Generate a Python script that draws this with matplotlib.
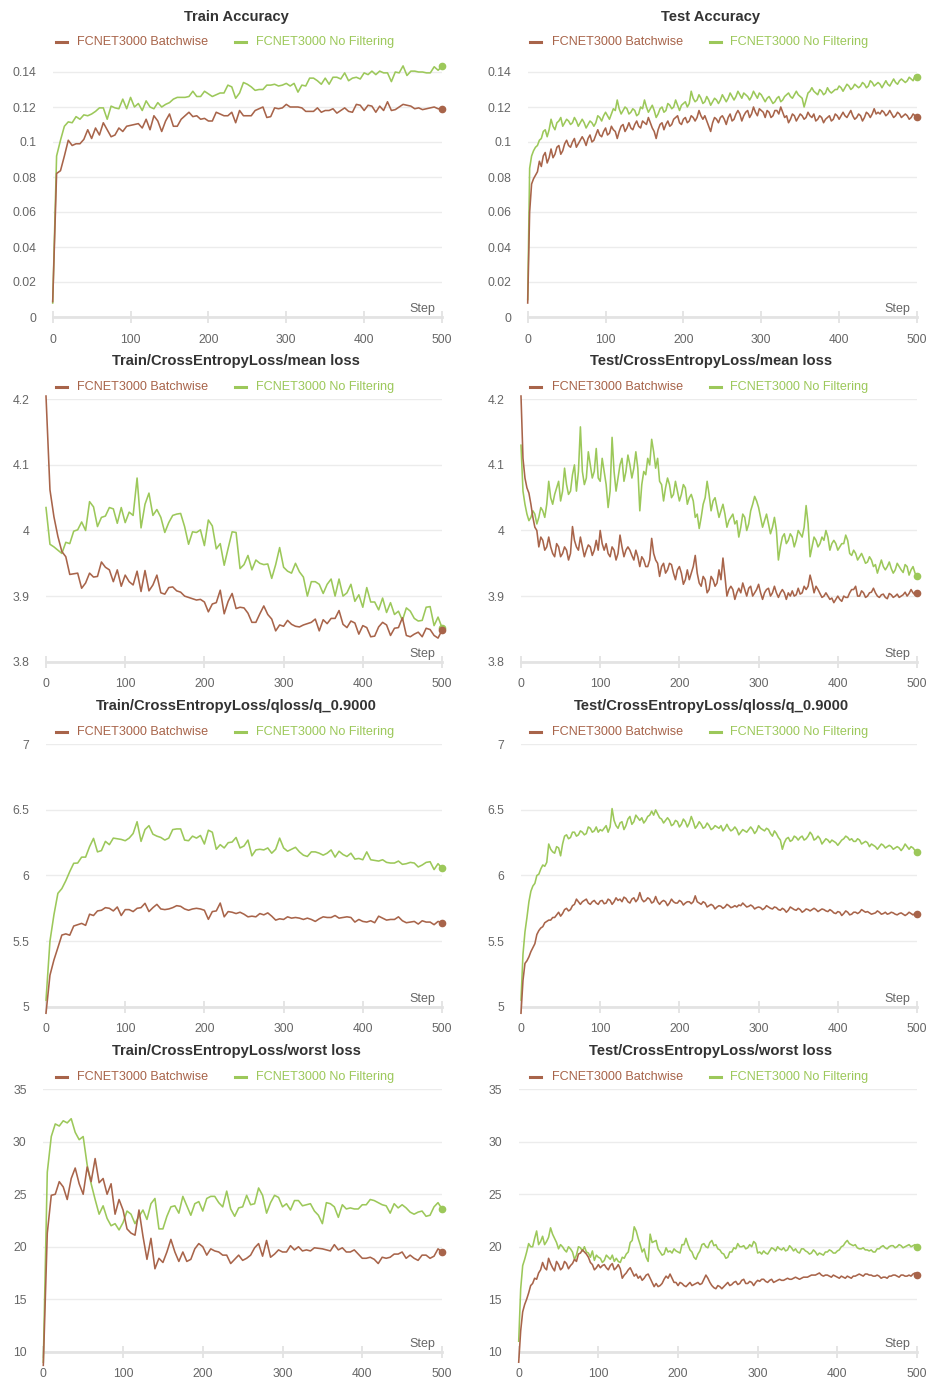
import numpy as np
import matplotlib
matplotlib.use("Agg")
import matplotlib.pyplot as plt
from matplotlib.lines import Line2D
from matplotlib.ticker import FuncFormatter

plt.rcParams['font.family'] = ['Liberation Sans', 'DejaVu Sans']

# logged steps 0, 5, ..., 500; test runs are also read between them (2.5, 7.5, ...)
steps = list(range(0, 501, 5))
mid_steps = [s + 2.5 for s in steps[:-1]]

series_names = ["FCNET3000 Batchwise", "FCNET3000 No Filtering"]
brown = "#A8644A"
green = "#9CC85A"

train_acc_batch = [
    0.0088, 0.082, 0.0836, 0.092, 0.101, 0.098, 0.099, 0.099, 0.1015, 0.107,
    0.102, 0.108, 0.104, 0.111, 0.107, 0.103, 0.104, 0.108, 0.106, 0.109,
    0.1095, 0.110, 0.1105, 0.108, 0.113, 0.107, 0.115, 0.112, 0.106, 0.112,
    0.116, 0.109, 0.109, 0.113, 0.115, 0.117, 0.1145, 0.115, 0.113, 0.1135,
    0.112, 0.112, 0.117, 0.116, 0.115, 0.115, 0.117, 0.111, 0.118, 0.115,
    0.115, 0.115, 0.118, 0.119, 0.120, 0.114, 0.1145, 0.1195, 0.119, 0.1195,
    0.1215, 0.120, 0.120, 0.120, 0.1195, 0.1175, 0.1175, 0.1175, 0.1195, 0.117,
    0.118, 0.118, 0.119, 0.1165, 0.118, 0.1195, 0.1175, 0.117, 0.1215, 0.121,
    0.118, 0.121, 0.1205, 0.117, 0.1205, 0.118, 0.123, 0.118, 0.1185, 0.120,
    0.1215, 0.121, 0.1205, 0.119, 0.1195, 0.1185, 0.119, 0.1195, 0.120, 0.119,
    0.1187]
train_acc_nofilt = [
    0.008, 0.092, 0.101, 0.109, 0.1115, 0.111, 0.1145, 0.113, 0.1155, 0.115,
    0.116, 0.1175, 0.1195, 0.1195, 0.113, 0.1205, 0.1195, 0.119, 0.1245, 0.119,
    0.1255, 0.120, 0.122, 0.118, 0.1235, 0.120, 0.119, 0.1225, 0.120, 0.1215,
    0.1225, 0.1245, 0.1255, 0.1255, 0.1255, 0.126, 0.129, 0.126, 0.126, 0.129,
    0.1275, 0.126, 0.127, 0.128, 0.128, 0.1325, 0.1315, 0.125, 0.128, 0.134,
    0.133, 0.1315, 0.1295, 0.130, 0.130, 0.1325, 0.1325, 0.133, 0.132, 0.1325,
    0.1335, 0.132, 0.1335, 0.1285, 0.1325, 0.132, 0.1365, 0.1365, 0.135, 0.133,
    0.1365, 0.133, 0.137, 0.137, 0.136, 0.1395, 0.135, 0.1365, 0.137, 0.136,
    0.1395, 0.1385, 0.1405, 0.1385, 0.1405, 0.1395, 0.1395, 0.1345, 0.140, 0.1395,
    0.1435, 0.138, 0.1405, 0.1405, 0.140, 0.140, 0.1395, 0.1395, 0.143, 0.141,
    0.1432]

test_acc_batch = [
    0.008, 0.076, 0.081, 0.089, 0.092, 0.088, 0.096, 0.093, 0.098, 0.095,
    0.101, 0.097, 0.102, 0.099, 0.103, 0.098, 0.104, 0.101, 0.107, 0.103,
    0.108, 0.105, 0.107, 0.102, 0.109, 0.106, 0.111, 0.107, 0.112, 0.108,
    0.111, 0.114, 0.108, 0.102, 0.110, 0.107, 0.112, 0.110, 0.114, 0.111,
    0.113, 0.111, 0.115, 0.112, 0.118, 0.113, 0.112, 0.106, 0.114, 0.111,
    0.115, 0.110, 0.116, 0.113, 0.118, 0.112, 0.117, 0.114, 0.120, 0.115,
    0.118, 0.114, 0.117, 0.115, 0.118, 0.120, 0.114, 0.111, 0.116, 0.112,
    0.116, 0.113, 0.117, 0.114, 0.112, 0.115, 0.111, 0.114, 0.112, 0.116,
    0.113, 0.117, 0.114, 0.118, 0.113, 0.116, 0.112, 0.117, 0.114, 0.119,
    0.117, 0.118, 0.115, 0.118, 0.114, 0.117, 0.114, 0.116, 0.113, 0.116,
    0.1145]
test_acc_batch_mid = [
    0.060, 0.079, 0.083, 0.086, 0.094, 0.091, 0.091, 0.097, 0.093, 0.099,
    0.098, 0.100, 0.097, 0.101, 0.101, 0.102, 0.100, 0.104, 0.104, 0.106,
    0.104, 0.109, 0.106, 0.106, 0.110, 0.108, 0.108, 0.110, 0.109, 0.112,
    0.110, 0.111, 0.106, 0.107, 0.111, 0.110, 0.109, 0.113, 0.115, 0.110,
    0.114, 0.112, 0.114, 0.114, 0.115, 0.115, 0.109, 0.111, 0.113, 0.114,
    0.113, 0.114, 0.112, 0.116, 0.116, 0.115, 0.118, 0.116, 0.117, 0.119,
    0.117, 0.118, 0.114, 0.118, 0.116, 0.117, 0.115, 0.113, 0.115, 0.114,
    0.115, 0.114, 0.115, 0.116, 0.113, 0.114, 0.113, 0.115, 0.113, 0.115,
    0.115, 0.115, 0.116, 0.115, 0.114, 0.115, 0.114, 0.116, 0.116, 0.116,
    0.116, 0.117, 0.116, 0.116, 0.115, 0.116, 0.115, 0.115, 0.114, 0.115]
test_acc_nofilt = [
    0.010, 0.092, 0.097, 0.101, 0.106, 0.103, 0.113, 0.107, 0.112, 0.109,
    0.113, 0.110, 0.114, 0.109, 0.113, 0.108, 0.112, 0.109, 0.115, 0.112,
    0.117, 0.113, 0.119, 0.124, 0.116, 0.120, 0.116, 0.119, 0.115, 0.120,
    0.124, 0.117, 0.121, 0.114, 0.119, 0.117, 0.122, 0.119, 0.124, 0.118,
    0.122, 0.120, 0.129, 0.123, 0.127, 0.122, 0.126, 0.121, 0.125, 0.122,
    0.127, 0.123, 0.128, 0.124, 0.129, 0.125, 0.127, 0.124, 0.129, 0.125,
    0.127, 0.123, 0.126, 0.122, 0.125, 0.123, 0.126, 0.128, 0.125, 0.129,
    0.126, 0.120, 0.128, 0.131, 0.128, 0.130, 0.127, 0.131, 0.128, 0.130,
    0.132, 0.129, 0.133, 0.130, 0.133, 0.131, 0.134, 0.131, 0.135, 0.132,
    0.134, 0.131, 0.135, 0.132, 0.136, 0.133, 0.136, 0.134, 0.137, 0.135,
    0.137]
test_acc_nofilt_mid = [
    0.085, 0.095, 0.098, 0.102, 0.107, 0.107, 0.109, 0.111, 0.114, 0.111,
    0.112, 0.111, 0.112, 0.111, 0.111, 0.110, 0.111, 0.111, 0.114, 0.115,
    0.115, 0.116, 0.118, 0.119, 0.118, 0.119, 0.117, 0.118, 0.116, 0.119,
    0.120, 0.119, 0.118, 0.116, 0.120, 0.118, 0.121, 0.120, 0.121, 0.121,
    0.123, 0.122, 0.125, 0.124, 0.125, 0.123, 0.124, 0.123, 0.124, 0.124,
    0.125, 0.125, 0.126, 0.126, 0.127, 0.128, 0.126, 0.126, 0.127, 0.128,
    0.125, 0.125, 0.124, 0.123, 0.126, 0.124, 0.127, 0.126, 0.127, 0.127,
    0.125, 0.124, 0.129, 0.129, 0.127, 0.129, 0.128, 0.129, 0.129, 0.130,
    0.131, 0.131, 0.132, 0.131, 0.132, 0.132, 0.133, 0.132, 0.134, 0.133,
    0.133, 0.133, 0.133, 0.134, 0.134, 0.135, 0.135, 0.135, 0.136, 0.138]

train_mean_batch = [
    4.205, 4.062, 4.021, 3.991, 3.968, 3.960, 3.933, 3.934, 3.935, 3.912,
    3.920, 3.935, 3.929, 3.930, 3.952, 3.944, 3.940, 3.922, 3.940, 3.915,
    3.932, 3.922, 3.917, 3.938, 3.907, 3.939, 3.908, 3.917, 3.932, 3.905,
    3.903, 3.913, 3.914, 3.908, 3.906, 3.900, 3.898, 3.896, 3.894, 3.895,
    3.891, 3.876, 3.888, 3.890, 3.909, 3.873, 3.892, 3.904, 3.881, 3.883,
    3.882, 3.874, 3.860, 3.860, 3.873, 3.885, 3.872, 3.865, 3.847, 3.856,
    3.854, 3.863, 3.857, 3.854, 3.853, 3.856, 3.858, 3.860, 3.865, 3.847,
    3.864, 3.858, 3.866, 3.866, 3.878, 3.857, 3.852, 3.862, 3.859, 3.842,
    3.855, 3.852, 3.838, 3.839, 3.853, 3.860, 3.856, 3.840, 3.851, 3.852,
    3.867, 3.840, 3.838, 3.842, 3.845, 3.838, 3.851, 3.849, 3.840, 3.836,
    3.848]
train_mean_nofilt = [
    4.035, 3.979, 3.975, 3.970, 3.965, 3.982, 3.980, 3.999, 4.001, 4.013,
    4.000, 4.044, 4.036, 4.006, 4.020, 4.022, 4.035, 4.033, 4.011, 4.035,
    4.012, 4.028, 4.023, 4.080, 4.004, 4.040, 4.057, 4.023, 4.032, 4.020,
    3.997, 4.012, 4.023, 4.025, 4.026, 4.006, 3.979, 3.998, 3.997, 4.001,
    3.977, 4.016, 4.007, 3.972, 3.980, 3.947, 3.973, 3.998, 3.997, 3.942,
    3.948, 3.962, 3.940, 3.955, 3.950, 3.948, 3.949, 3.927, 3.948, 3.974,
    3.944, 3.938, 3.935, 3.950, 3.937, 3.929, 3.900, 3.922, 3.922, 3.918,
    3.904, 3.918, 3.926, 3.900, 3.926, 3.900, 3.905, 3.918, 3.892, 3.902,
    3.883, 3.913, 3.891, 3.891, 3.879, 3.897, 3.875, 3.890, 3.872, 3.877,
    3.863, 3.882, 3.877, 3.866, 3.862, 3.863, 3.883, 3.884, 3.855, 3.868,
    3.852]

test_mean_batch = [
    4.205, 4.080, 4.057, 4.020, 4.000, 3.990, 3.970, 3.990, 3.965, 3.980,
    3.960, 3.975, 3.955, 4.006, 3.975, 3.990, 3.960, 3.978, 3.962, 3.985,
    4.000, 3.970, 3.965, 3.975, 3.955, 3.993, 3.960, 3.975, 3.962, 3.970,
    3.945, 3.955, 3.945, 3.988, 3.955, 3.930, 3.950, 3.940, 3.948, 3.925,
    3.945, 3.918, 3.940, 3.935, 3.962, 3.920, 3.930, 3.905, 3.930, 3.915,
    3.940, 3.958, 3.900, 3.915, 3.895, 3.912, 3.920, 3.900, 3.915, 3.905,
    3.918, 3.895, 3.910, 3.900, 3.915, 3.898, 3.910, 3.895, 3.900, 3.900,
    3.912, 3.905, 3.910, 3.932, 3.905, 3.910, 3.898, 3.905, 3.895, 3.890,
    3.900, 3.892, 3.898, 3.905, 3.910, 3.900, 3.908, 3.898, 3.905, 3.912,
    3.900, 3.902, 3.898, 3.904, 3.898, 3.903, 3.900, 3.906, 3.904, 3.905,
    3.905]
test_mean_batch_mid = [
    4.110, 4.065, 4.040, 4.005, 3.975, 3.985, 3.975, 3.975, 3.960, 3.975,
    3.965, 3.970, 3.965, 3.985, 3.970, 3.975, 3.970, 3.975, 3.970, 3.970,
    3.980, 3.980, 3.960, 3.970, 3.965, 3.975, 3.970, 3.970, 3.955, 3.960,
    3.960, 3.945, 3.955, 3.965, 3.950, 3.945, 3.935, 3.950, 3.935, 3.940,
    3.935, 3.925, 3.925, 3.945, 3.935, 3.915, 3.925, 3.910, 3.925, 3.920,
    3.925, 3.930, 3.910, 3.910, 3.905, 3.905, 3.910, 3.912, 3.900, 3.910,
    3.905, 3.905, 3.912, 3.905, 3.905, 3.905, 3.905, 3.905, 3.908, 3.902,
    3.903, 3.915, 3.915, 3.920, 3.915, 3.904, 3.900, 3.900, 3.897, 3.895,
    3.895, 3.900, 3.898, 3.910, 3.915, 3.900, 3.905, 3.900, 3.906, 3.905,
    3.898, 3.903, 3.896, 3.902, 3.900, 3.898, 3.902, 3.900, 3.910, 3.902]
test_mean_nofilt = [
    4.130, 4.040, 4.015, 4.030, 4.010, 4.035, 4.020, 4.075, 4.040, 4.065,
    4.045, 4.095, 4.055, 4.085, 4.060, 4.158, 4.070, 4.120, 4.080, 4.125,
    4.075, 4.090, 4.035, 4.142, 4.060, 4.100, 4.075, 4.115, 4.080, 4.120,
    4.030, 4.090, 4.110, 4.139, 4.095, 4.075, 4.045, 4.080, 4.050, 4.075,
    4.045, 4.070, 4.040, 4.055, 4.020, 4.003, 4.040, 4.075, 4.030, 4.050,
    4.020, 4.040, 4.005, 4.020, 4.010, 3.990, 4.025, 4.000, 4.030, 4.052,
    4.035, 4.005, 4.025, 3.995, 4.020, 3.955, 3.990, 3.980, 3.995, 3.975,
    4.000, 3.990, 4.038, 3.960, 3.990, 3.975, 3.990, 4.000, 3.970, 3.985,
    3.970, 3.980, 3.993, 3.965, 3.970, 3.955, 3.965, 3.950, 3.960, 3.945,
    3.935, 3.955, 3.940, 3.952, 3.935, 3.950, 3.940, 3.948, 3.932, 3.945,
    3.930]
test_mean_nofilt_mid = [
    4.060, 4.025, 4.020, 4.025, 4.020, 4.030, 4.040, 4.050, 4.055, 4.075,
    4.060, 4.070, 4.060, 4.100, 4.090, 4.090, 4.080, 4.100, 4.090, 4.080,
    4.110, 4.070, 4.060, 4.090, 4.080, 4.110, 4.090, 4.100, 4.095, 4.095,
    4.070, 4.085, 4.100, 4.120, 4.110, 4.070, 4.065, 4.070, 4.055, 4.060,
    4.055, 4.065, 4.050, 4.045, 4.025, 4.020, 4.050, 4.055, 4.045, 4.035,
    4.030, 4.025, 4.015, 4.025, 4.015, 4.005, 4.020, 4.010, 4.040, 4.045,
    4.020, 4.015, 4.010, 4.005, 4.000, 3.975, 3.995, 3.985, 3.990, 3.985,
    3.995, 4.005, 4.010, 3.975, 3.985, 3.980, 3.985, 3.990, 3.980, 3.980,
    3.975, 3.980, 3.985, 3.962, 3.965, 3.960, 3.958, 3.952, 3.955, 3.948,
    3.945, 3.945, 3.945, 3.942, 3.940, 3.945, 3.936, 3.945, 3.940, 3.935]

train_q90_batch = [
    4.95, 5.24, 5.356, 5.45, 5.546, 5.555, 5.545, 5.615, 5.625, 5.635,
    5.62, 5.705, 5.695, 5.73, 5.735, 5.755, 5.75, 5.73, 5.76, 5.695,
    5.74, 5.74, 5.725, 5.75, 5.755, 5.788, 5.725, 5.755, 5.78, 5.745,
    5.74, 5.745, 5.755, 5.77, 5.765, 5.745, 5.735, 5.745, 5.75, 5.745,
    5.735, 5.666, 5.725, 5.73, 5.79, 5.685, 5.725, 5.72, 5.71, 5.72,
    5.705, 5.685, 5.69, 5.685, 5.71, 5.70, 5.715, 5.69, 5.66, 5.67,
    5.665, 5.685, 5.675, 5.68, 5.675, 5.665, 5.675, 5.665, 5.65, 5.67,
    5.685, 5.68, 5.68, 5.695, 5.675, 5.68, 5.685, 5.68, 5.645, 5.665,
    5.65, 5.645, 5.655, 5.64, 5.69, 5.675, 5.66, 5.665, 5.665, 5.685,
    5.655, 5.64, 5.645, 5.65, 5.63, 5.655, 5.645, 5.645, 5.625, 5.65,
    5.64]
train_q90_nofilt = [
    5.05, 5.50, 5.70, 5.864, 5.90, 5.96, 6.03, 6.093, 6.095, 6.14,
    6.14, 6.22, 6.283, 6.18, 6.19, 6.26, 6.235, 6.285, 6.28, 6.275,
    6.265, 6.285, 6.32, 6.41, 6.26, 6.35, 6.38, 6.315, 6.30, 6.29,
    6.27, 6.285, 6.35, 6.355, 6.355, 6.27, 6.265, 6.30, 6.285, 6.305,
    6.24, 6.345, 6.33, 6.20, 6.235, 6.21, 6.25, 6.255, 6.29, 6.21,
    6.225, 6.27, 6.15, 6.195, 6.20, 6.195, 6.21, 6.17, 6.20, 6.285,
    6.21, 6.185, 6.20, 6.215, 6.18, 6.155, 6.145, 6.18, 6.18, 6.17,
    6.155, 6.17, 6.195, 6.14, 6.185, 6.16, 6.145, 6.17, 6.125, 6.13,
    6.12, 6.18, 6.12, 6.115, 6.11, 6.12, 6.10, 6.095, 6.095, 6.11,
    6.085, 6.09, 6.10, 6.095, 6.065, 6.08, 6.10, 6.105, 6.045, 6.09,
    6.055]

test_q90_batch = [
    4.95, 5.33, 5.38, 5.45, 5.55, 5.60, 5.64, 5.66, 5.68, 5.70,
    5.69, 5.74, 5.73, 5.77, 5.82, 5.78, 5.81, 5.79, 5.80, 5.79,
    5.805, 5.785, 5.82, 5.78, 5.83, 5.82, 5.835, 5.80, 5.82, 5.80,
    5.87, 5.80, 5.83, 5.79, 5.84, 5.78, 5.81, 5.77, 5.82, 5.79,
    5.81, 5.775, 5.80, 5.785, 5.845, 5.79, 5.80, 5.76, 5.78, 5.745,
    5.77, 5.75, 5.78, 5.755, 5.77, 5.775, 5.79, 5.76, 5.775, 5.745,
    5.76, 5.74, 5.77, 5.75, 5.76, 5.74, 5.75, 5.72, 5.76, 5.74,
    5.75, 5.72, 5.745, 5.73, 5.75, 5.725, 5.745, 5.73, 5.74, 5.715,
    5.725, 5.695, 5.73, 5.70, 5.72, 5.71, 5.74, 5.72, 5.715, 5.71,
    5.73, 5.705, 5.72, 5.71, 5.715, 5.70, 5.715, 5.695, 5.72, 5.70,
    5.705]
test_q90_batch_mid = [
    5.20, 5.35, 5.42, 5.48, 5.58, 5.61, 5.65, 5.66, 5.68, 5.72,
    5.71, 5.75, 5.74, 5.78, 5.80, 5.80, 5.82, 5.78, 5.81, 5.78,
    5.81, 5.79, 5.81, 5.80, 5.81, 5.80, 5.825, 5.79, 5.83, 5.82,
    5.82, 5.81, 5.82, 5.80, 5.80, 5.80, 5.80, 5.79, 5.80, 5.79,
    5.80, 5.79, 5.80, 5.80, 5.80, 5.78, 5.79, 5.77, 5.77, 5.76,
    5.765, 5.76, 5.77, 5.76, 5.76, 5.77, 5.775, 5.765, 5.765, 5.755,
    5.755, 5.75, 5.76, 5.745, 5.755, 5.735, 5.74, 5.735, 5.75, 5.735,
    5.74, 5.73, 5.74, 5.74, 5.74, 5.735, 5.74, 5.725, 5.73, 5.71,
    5.72, 5.71, 5.72, 5.705, 5.72, 5.72, 5.73, 5.725, 5.705, 5.715,
    5.72, 5.71, 5.705, 5.72, 5.705, 5.71, 5.705, 5.705, 5.71, 5.71]
test_q90_nofilt = [
    5.05, 5.57, 5.80, 5.92, 6.00, 6.05, 6.07, 6.24, 6.18, 6.22,
    6.15, 6.30, 6.28, 6.33, 6.30, 6.34, 6.31, 6.37, 6.33, 6.37,
    6.35, 6.36, 6.33, 6.51, 6.38, 6.40, 6.35, 6.43, 6.39, 6.46,
    6.42, 6.40, 6.45, 6.49, 6.50, 6.44, 6.40, 6.44, 6.38, 6.42,
    6.37, 6.43, 6.37, 6.45, 6.36, 6.41, 6.36, 6.40, 6.35, 6.38,
    6.36, 6.34, 6.39, 6.34, 6.37, 6.31, 6.35, 6.33, 6.37, 6.32,
    6.38, 6.35, 6.36, 6.32, 6.34, 6.29, 6.20, 6.28, 6.26, 6.30,
    6.27, 6.30, 6.28, 6.33, 6.27, 6.30, 6.24, 6.28, 6.25, 6.26,
    6.23, 6.27, 6.30, 6.27, 6.26, 6.28, 6.24, 6.26, 6.22, 6.23,
    6.20, 6.24, 6.21, 6.23, 6.20, 6.22, 6.19, 6.24, 6.20, 6.21,
    6.18]
test_q90_nofilt_mid = [
    5.40, 5.68, 5.88, 5.94, 6.01, 6.08, 6.10, 6.20, 6.17, 6.21,
    6.24, 6.31, 6.29, 6.33, 6.31, 6.33, 6.32, 6.36, 6.34, 6.33,
    6.34, 6.38, 6.37, 6.42, 6.36, 6.41, 6.38, 6.45, 6.41, 6.44,
    6.44, 6.42, 6.46, 6.46, 6.47, 6.43, 6.42, 6.42, 6.39, 6.41,
    6.39, 6.41, 6.40, 6.41, 6.38, 6.39, 6.37, 6.38, 6.36, 6.37,
    6.38, 6.36, 6.36, 6.35, 6.35, 6.33, 6.34, 6.35, 6.35, 6.34,
    6.36, 6.34, 6.35, 6.30, 6.32, 6.27, 6.25, 6.29, 6.27, 6.29,
    6.29, 6.27, 6.30, 6.31, 6.28, 6.28, 6.26, 6.27, 6.27, 6.25,
    6.25, 6.28, 6.29, 6.28, 6.26, 6.27, 6.25, 6.25, 6.24, 6.22,
    6.22, 6.23, 6.22, 6.22, 6.21, 6.21, 6.21, 6.22, 6.22, 6.19]

train_worst_batch = [
    8.7, 21.3, 24.9, 25.0, 26.2, 25.7, 24.5, 26.5, 27.5, 26.0,
    25.0, 27.6, 26.2, 28.4, 26.1, 26.5, 25.0, 26.0, 23.1, 24.5,
    23.5, 21.7, 21.3, 21.1, 23.5, 21.0, 18.8, 20.8, 17.9, 18.9,
    18.5, 19.5, 20.7, 19.5, 18.6, 19.5, 18.6, 18.8, 19.8, 20.3,
    20.0, 19.2, 19.8, 19.6, 19.5, 19.2, 19.2, 18.4, 18.8, 19.2,
    18.7, 18.9, 19.2, 19.9, 20.3, 19.1, 20.6, 19.0, 19.3, 19.7,
    19.5, 19.5, 20.1, 19.7, 20.0, 19.6, 19.7, 19.6, 19.9, 19.85,
    19.8, 19.7, 19.6, 20.2, 19.7, 19.9, 19.5, 19.5, 19.7, 19.3,
    18.9, 18.9, 19.0, 18.8, 18.4, 19.0, 18.9, 19.0, 19.3, 19.3,
    19.5, 18.9, 19.2, 18.9, 18.7, 19.2, 19.2, 18.9, 19.1, 19.8,
    19.5]
train_worst_nofilt = [
    9.0, 27.1, 30.5, 31.7, 31.5, 32.0, 31.8, 32.2, 30.9, 30.2,
    30.5, 27.8, 26.0, 24.5, 23.1, 23.9, 22.7, 22.0, 22.2, 21.6,
    22.3, 23.4, 23.1, 22.2, 22.9, 23.5, 22.6, 24.1, 24.6, 21.7,
    21.7, 22.9, 23.8, 23.9, 23.2, 24.8, 23.9, 23.0, 24.1, 24.3,
    23.4, 24.6, 24.8, 24.8, 24.2, 23.8, 25.3, 23.6, 22.9, 23.7,
    23.8, 24.9, 24.0, 24.1, 25.6, 24.9, 23.2, 24.2, 24.9, 24.7,
    23.8, 24.1, 23.5, 24.4, 24.4, 23.9, 24.0, 24.1, 23.4, 23.0,
    22.2, 24.2, 24.1, 23.8, 22.8, 24.0, 23.6, 23.7, 23.6, 23.6,
    24.0, 24.0, 24.5, 24.4, 24.2, 24.0, 23.9, 23.2, 24.1, 23.7,
    24.0, 23.7, 23.3, 23.1, 23.3, 23.4, 22.9, 23.0, 23.8, 24.2,
    23.6]

test_worst_batch = [
    9.0, 13.8, 15.0, 16.3, 17.0, 17.5, 18.5, 17.8, 18.4, 17.7,
    18.3, 18.0, 18.4, 18.2, 18.8, 19.3, 19.7, 19.3, 18.5, 17.8,
    18.3, 18.2, 18.0, 18.2, 17.8, 18.3, 17.0, 17.5, 18.0, 17.2,
    17.0, 16.8, 17.3, 17.0, 16.2, 16.2, 16.5, 17.2, 17.4, 16.6,
    16.3, 16.5, 16.2, 16.6, 16.4, 16.6, 16.5, 17.3, 16.6, 16.1,
    16.3, 16.0, 16.4, 16.3, 16.6, 16.4, 16.8, 16.5, 16.7, 16.3,
    16.8, 16.9, 16.7, 16.8, 16.6, 16.8, 16.8, 16.9, 16.9, 17.0,
    17.0, 17.0, 17.1, 17.2, 17.3, 17.4, 17.3, 17.3, 17.2, 17.3,
    17.1, 17.2, 17.0, 17.1, 17.2, 17.3, 17.3, 17.4, 17.3, 17.2,
    17.3, 17.0, 17.1, 17.2, 17.3, 17.2, 17.3, 17.2, 17.3, 17.4,
    17.3]
test_worst_batch_mid = [
    12.0, 14.5, 15.6, 16.5, 16.9, 17.8, 18.0, 18.9, 18.0, 18.6,
    17.8, 18.6, 17.9, 18.4, 18.6, 19.4, 19.5, 19.0, 18.3, 18.0,
    18.0, 18.3, 17.8, 18.4, 18.0, 17.9, 17.3, 17.8, 17.6, 17.4,
    17.2, 17.0, 17.4, 16.6, 16.5, 16.3, 16.9, 17.0, 17.0, 16.6,
    16.6, 16.3, 16.4, 16.3, 16.5, 16.4, 16.9, 17.0, 16.3, 16.0,
    16.2, 16.2, 16.6, 16.4, 16.7, 16.5, 16.9, 16.5, 16.6, 16.6,
    16.7, 16.9, 16.6, 16.9, 16.7, 16.9, 16.8, 17.0, 16.9, 17.1,
    16.9, 17.1, 17.1, 17.3, 17.3, 17.5, 17.2, 17.3, 17.1, 17.2,
    17.0, 17.1, 17.2, 17.0, 17.2, 17.4, 17.2, 17.4, 17.3, 17.2,
    17.2, 17.1, 17.0, 17.2, 17.3, 17.1, 17.3, 17.2, 17.2, 17.5]
test_worst_nofilt = [
    11.0, 18.2, 19.5, 20.0, 20.8, 20.2, 21.0, 20.5, 21.8, 20.8,
    19.8, 20.0, 19.5, 19.8, 18.8, 20.0, 19.6, 19.5, 19.0, 18.7,
    19.0, 18.5, 19.2, 18.8, 18.6, 18.6, 19.0, 19.3, 20.4, 21.9,
    20.8, 19.5, 19.0, 21.2, 20.5, 19.8, 19.2, 19.9, 19.6, 19.8,
    19.5, 20.2, 20.8, 19.7, 19.0, 19.3, 20.2, 20.0, 20.4, 20.1,
    19.8, 19.4, 18.9, 19.5, 19.9, 20.3, 20.0, 19.8, 20.2, 20.5,
    19.4, 19.3, 19.4, 19.6, 19.8, 20.0, 19.7, 19.6, 20.1, 19.6,
    19.5, 19.8, 19.6, 19.3, 19.7, 19.2, 19.3, 19.5, 19.7, 19.4,
    19.6, 20.0, 20.4, 20.3, 20.1, 19.9, 19.8, 19.7, 19.6, 19.5,
    19.8, 20.0, 19.9, 20.0, 20.1, 20.0, 20.1, 20.0, 20.2, 20.1,
    20.0]
test_worst_nofilt_mid = [
    16.0, 18.8, 20.3, 20.0, 21.5, 20.5, 20.2, 20.9, 21.2, 20.4,
    20.2, 19.7, 20.0, 19.5, 19.2, 19.9, 20.0, 19.4, 19.6, 19.2,
    18.9, 18.7, 19.0, 19.2, 18.9, 18.5, 18.9, 19.5, 20.6, 21.5,
    20.2, 19.8, 18.6, 20.4, 20.6, 19.5, 19.3, 19.5, 19.4, 19.6,
    19.4, 20.2, 20.2, 19.5, 18.8, 19.6, 20.3, 19.9, 20.6, 20.2,
    19.7, 19.3, 19.0, 19.5, 19.8, 20.0, 20.1, 19.9, 20.0, 20.3,
    19.5, 19.6, 19.3, 19.9, 19.6, 19.8, 19.9, 19.7, 19.9, 19.8,
    19.4, 19.8, 19.5, 19.4, 19.5, 19.4, 19.2, 19.5, 19.6, 19.4,
    19.7, 20.1, 20.6, 20.2, 20.2, 19.8, 19.9, 19.7, 19.7, 19.5,
    19.8, 20.1, 19.8, 20.1, 19.9, 20.2, 19.9, 20.1, 20.0, 20.2]


def interleave(main, mid):
    xs, ys = [], []
    for i, v in enumerate(main):
        xs.append(steps[i])
        ys.append(v)
        if i < len(mid):
            xs.append(mid_steps[i])
            ys.append(mid[i])
    return xs, ys


panels = [
    ("Train Accuracy", (steps, train_acc_batch), (steps, train_acc_nofilt)),
    ("Test Accuracy", interleave(test_acc_batch, test_acc_batch_mid),
     interleave(test_acc_nofilt, test_acc_nofilt_mid)),
    ("Train/CrossEntropyLoss/mean loss", (steps, train_mean_batch), (steps, train_mean_nofilt)),
    ("Test/CrossEntropyLoss/mean loss", interleave(test_mean_batch, test_mean_batch_mid),
     interleave(test_mean_nofilt, test_mean_nofilt_mid)),
    ("Train/CrossEntropyLoss/qloss/q_0.9000", (steps, train_q90_batch), (steps, train_q90_nofilt)),
    ("Test/CrossEntropyLoss/qloss/q_0.9000", interleave(test_q90_batch, test_q90_batch_mid),
     interleave(test_q90_nofilt, test_q90_nofilt_mid)),
    ("Train/CrossEntropyLoss/worst loss", (steps, train_worst_batch), (steps, train_worst_nofilt)),
    ("Test/CrossEntropyLoss/worst loss", interleave(test_worst_batch, test_worst_batch_mid),
     interleave(test_worst_nofilt, test_worst_nofilt_mid)),
]

row_ylims = [(0, 0.15), (3.8, 4.2), (5, 7), (10, 35)]
row_yticks = [
    [0, 0.02, 0.04, 0.06, 0.08, 0.1, 0.12, 0.14],
    [3.8, 3.9, 4.0, 4.1, 4.2],
    [5, 5.5, 6, 6.5, 7],
    [10, 15, 20, 25, 30, 35],
]
xticks = [0, 100, 200, 300, 400, 500]

# layout in pixels
W, H = 934, 1381
row_top = [54.5, 399.3, 744.3, 1089.3]
row_bottom = [317.0, 661.7, 1006.7, 1351.7]
panel_left = [52.7, 527.7, 46, 521, 46, 521, 43.3, 518.7]
col_right = [442, 917]
title_x = [236, 711]
legend_handle_x = [(56, 67, 77, 235, 246, 256), (530, 541, 552, 710, 721, 730)]

fig = plt.figure(figsize=(W / 100, H / 100), dpi=100)
fig.patch.set_facecolor("white")

fmt = FuncFormatter(lambda v, p: "%g" % round(v, 4))

for i, (title, (xb, yb_), (xg, yg)) in enumerate(panels):
    row, col = divmod(i, 2)
    x0 = panel_left[i]
    x1 = col_right[col]
    yt, yb = row_top[row], row_bottom[row]
    ax = fig.add_axes([x0 / W, 1 - yb / H, (x1 - x0) / W, (yb - yt) / H])

    ax.plot(xg, yg, color=green, lw=1.15, clip_on=False, zorder=3)
    ax.plot(xb, yb_, color=brown, lw=1.15, clip_on=False, zorder=4)
    ax.plot(xg[-1], yg[-1], "o", ms=4.5, color=green, clip_on=False, zorder=5)
    ax.plot(xb[-1], yb_[-1], "o", ms=4.5, color=brown, clip_on=False, zorder=5)

    ax.set_xlim(0, 500)
    ax.set_ylim(*row_ylims[row])
    ax.set_yticks(row_yticks[row])
    ax.set_xticks(xticks)
    ax.yaxis.set_major_formatter(fmt)
    ax.yaxis.grid(True, color="#ececec", lw=1)
    ax.set_axisbelow(True)
    for s in ["top", "right", "left"]:
        ax.spines[s].set_visible(False)
    ax.spines["bottom"].set_color("#e3e3e3")
    ax.spines["bottom"].set_linewidth(2)
    ax.tick_params(axis="y", length=0, pad=12, labelsize=8.8, labelcolor="#666666")
    ax.tick_params(axis="x", direction="inout", length=8, width=1.3, color="#e3e3e3",
                   pad=8, labelsize=8.7, labelcolor="#666666")
    ax.text(1 - 7 / (x1 - x0), 8 / (yb - yt), "Step", transform=ax.transAxes,
            ha="right", va="center", fontsize=9, color="#666666")

    # title and legend above each panel
    off = 345 * row
    fig.text(title_x[col] / W, 1 - (16.5 + off) / H, title, ha="center", va="center",
             fontsize=10.6, fontweight="bold", color="#333333")
    hx = legend_handle_x[col]
    ly = 1 - (41.7 + off) / H
    for (a, b, t), c, name in zip([(hx[0], hx[1], hx[2]), (hx[3], hx[4], hx[5])],
                                   [brown, green], series_names):
        fig.add_artist(Line2D([a / W, b / W], [ly, ly], transform=fig.transFigure,
                              color=c, lw=2.2))
        fig.text(t / W, ly, name, ha="left", va="center", fontsize=9.1, color=c)

fig.savefig("out.png", dpi=100, facecolor="white")
